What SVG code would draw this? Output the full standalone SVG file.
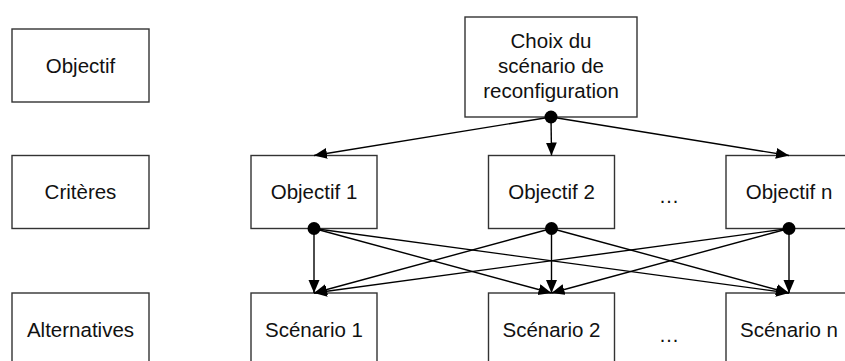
<svg xmlns="http://www.w3.org/2000/svg" width="845" height="361" viewBox="0 0 845 361">
<style>
.box{fill:#fff;stroke:#333;stroke-width:1.4}
.lbl{font-family:"Liberation Sans",Arial,sans-serif;font-size:20.5px;fill:#111;text-anchor:middle}
.edge{stroke:#000;stroke-width:1.4;fill:none;marker-end:url(#arr)}
.dot{fill:#000}
</style>
<defs>
<marker id="arr" markerUnits="userSpaceOnUse" markerWidth="13" markerHeight="12" refX="13" refY="5.5" orient="auto">
<path d="M0,0 L13,5.5 L0,11 z" fill="#000"/>
</marker>
</defs>
<rect width="845" height="361" fill="#fff"/>
<g id="level-objectif"><rect class="box" x="12" y="29" width="137" height="73"/><text class="lbl" x="80.5" y="73">Objectif</text></g>
<g id="level-criteres"><rect class="box" x="12" y="155.5" width="137" height="73"/><text class="lbl" x="80.5" y="199">Critères</text></g>
<g id="level-alternatives"><rect class="box" x="12" y="293" width="137" height="80"/><text class="lbl" x="80.5" y="337">Alternatives</text></g>
<g id="choix"><rect class="box" x="465" y="17" width="172" height="100"/>
<text class="lbl" x="551" y="48">Choix du</text>
<text class="lbl" x="551" y="73">scénario de</text>
<text class="lbl" x="551" y="98">reconfiguration</text></g>
<g id="obj1"><rect class="box" x="251" y="155.5" width="126" height="73"/><text class="lbl" x="314" y="199">Objectif 1</text></g>
<g id="obj2"><rect class="box" x="488.5" y="155.5" width="126" height="73"/><text class="lbl" x="551.5" y="199">Objectif 2</text></g>
<g id="objn"><rect class="box" x="726" y="155.5" width="126" height="73"/><text class="lbl" x="789" y="199">Objectif n</text></g>
<g id="sc1"><rect class="box" x="251" y="293" width="126" height="80"/><text class="lbl" x="314" y="337">Scénario 1</text></g>
<g id="sc2"><rect class="box" x="488.5" y="293" width="126" height="80"/><text class="lbl" x="551.5" y="337">Scénario 2</text></g>
<g id="scn"><rect class="box" x="726" y="293" width="126" height="80"/><text class="lbl" x="789" y="337">Scénario n</text></g>
<g id="ellipsis-top"><text class="lbl" x="669" y="203">…</text></g>
<g id="ellipsis-bottom"><text class="lbl" x="669" y="342">…</text></g>
<g id="connectors">
<line class="edge" x1="551" y1="117" x2="314" y2="155.5"/>
<line class="edge" x1="551" y1="117" x2="551.5" y2="155.5"/>
<line class="edge" x1="551" y1="117" x2="789" y2="155.5"/>
<line class="edge" x1="314" y1="228.5" x2="314" y2="293"/>
<line class="edge" x1="314" y1="228.5" x2="551.5" y2="293"/>
<line class="edge" x1="314" y1="228.5" x2="789" y2="293"/>
<line class="edge" x1="551.5" y1="228.5" x2="314" y2="293"/>
<line class="edge" x1="551.5" y1="228.5" x2="551.5" y2="293"/>
<line class="edge" x1="551.5" y1="228.5" x2="789" y2="293"/>
<line class="edge" x1="789" y1="228.5" x2="314" y2="293"/>
<line class="edge" x1="789" y1="228.5" x2="551.5" y2="293"/>
<line class="edge" x1="789" y1="228.5" x2="789" y2="293"/>
<circle class="dot" cx="551" cy="117" r="6.5"/>
<circle class="dot" cx="314" cy="228.5" r="6.5"/>
<circle class="dot" cx="551.5" cy="228.5" r="6.5"/>
<circle class="dot" cx="789" cy="228.5" r="6.5"/>
</g>
</svg>
